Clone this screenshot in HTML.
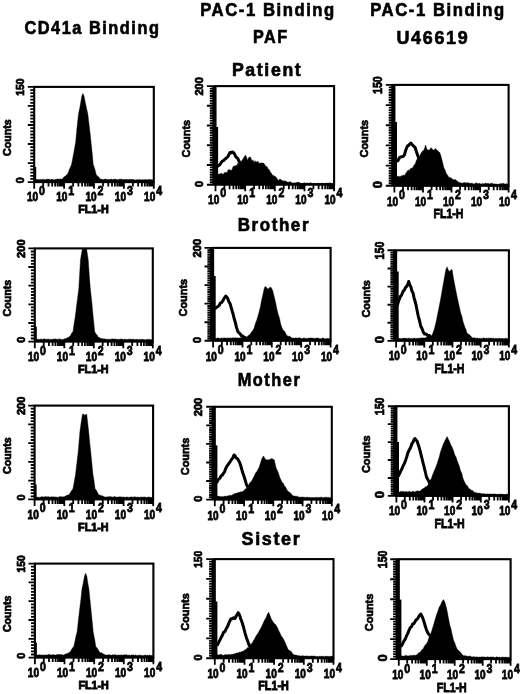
<!DOCTYPE html>
<html><head><meta charset="utf-8"><title>Figure</title>
<style>
html,body{margin:0;padding:0;background:#fff;}
svg{display:block;font-family:"Liberation Sans",sans-serif;}
.fh{fill:#000;stroke:#000;stroke-width:.4;stroke-linejoin:round}
.oh{fill:none;stroke:#000;stroke-width:3;stroke-linejoin:round;stroke-linecap:round}
.fr{fill:none;stroke:#000;stroke-width:2.1}
.bl{fill:none;stroke:#000;stroke-width:1.3}
.tk{fill:none;stroke:#000;stroke-width:1.8}
.tk2{fill:none;stroke:#000;stroke-width:1.9}
text{font-weight:bold;fill:#000;stroke:#000}
.hd{font-size:18.2px;letter-spacing:1.7px;stroke-width:.65}
.xl{stroke-width:.8}
.fl{stroke-width:.85}
.yl{stroke-width:.75}
.yc{stroke-width:.7}
</style></head><body>
<svg width="520" height="694" viewBox="0 0 520 694">
<rect width="520" height="694" fill="#fff"/>
<g filter="url(#b)">
<g>
<polygon class="fh" points="36,182.1 36,179.5 37,179.5 38,179.5 39,179.8 40,179.4 41,179.5 42,179.5 43,179.2 44,179.4 45,179.5 46,179.7 47,179.1 48,179.2 49,179.1 50,179.7 51,179.5 52,179 53,179.8 54,179.8 55,179.5 56,179.4 57,179 58,178.9 59,179.3 60,178.9 61,179 62,179.3 63.1,178 64.1,176.8 65.2,176.3 66.2,175.2 67.3,174.3 68.4,172.3 69.4,169.3 70.5,167 71.6,164.3 72.6,158.9 73.6,153.7 74.6,148 75.6,142.6 77,127.8 78.5,113.8 79.6,108.7 80.7,102.7 81.8,96 82.9,93.4 84,96 85.3,102.5 86.5,108.2 87.8,113.8 88.9,123.1 90,132.6 91.1,142.6 92.2,153.1 93.2,164.3 94.7,168.6 96.1,174.3 97.3,175.9 98.5,176.7 99.8,178.4 101,179.3 102,179.2 103,179.7 104,179.6 105,178.9 106,179.1 107,179.7 108,179.3 109,179.8 110,179.3 111,179 112,179.5 113,179.6 114,179.2 115,179.1 116,179.3 117,179.8 118,179.7 119,179.2 120,179.3 121,179.2 122,179.1 123,179.8 124,179.3 125,179.6 126,179.5 127,179.3 128,179.7 129,179.3 130,179.7 131,179.3 132,179.5 133,179.4 134,179.4 135,180 136,179.9 137,179.5 138,180 139,179.4 140,179.6 141,180 142,179.8 143,179.4 144,180.1 145,179.5 146,179.5 147,180 148,179.6 149,179.6 150,179.4 151,179.5 152,179.9 153,179.8 153,182.1"/>
<rect x="34.2" y="167.1" width="2.0" height="15"/>
<rect class="fr" x="34.2" y="86.9" width="119.6" height="95.2"/>
<path class="bl" d="M34.2 181.4H153.8"/>
<path class="tk" d="M34.2 182.1h-6.4M34.2 178.9h-3.9M34.2 175.8h-3.9M34.2 172.6h-3.9M34.2 169.4h-3.9M34.2 166.2h-3.9M34.2 163.1h-6.4M34.2 159.9h-3.9M34.2 156.7h-3.9M34.2 153.5h-3.9M34.2 150.4h-3.9M34.2 147.2h-3.9M34.2 144h-6.4M34.2 140.8h-3.9M34.2 137.7h-3.9M34.2 134.5h-3.9M34.2 131.3h-3.9M34.2 128.2h-3.9M34.2 125h-6.4M34.2 121.8h-3.9M34.2 118.6h-3.9M34.2 115.5h-3.9M34.2 112.3h-3.9M34.2 109.1h-3.9M34.2 105.9h-6.4M34.2 102.8h-3.9M34.2 99.6h-3.9M34.2 96.4h-3.9M34.2 93.2h-3.9M34.2 90.1h-3.9M34.2 86.9h-6.4"/>
<path class="tk" d="M34.2 182.1v6.6M43.2 182.1v4.5M48.5 182.1v4.5M52.2 182.1v4.5M55.1 182.1v4.5M57.5 182.1v4.5M59.5 182.1v4.5M61.2 182.1v4.5M62.8 182.1v4.5M64.1 182.1v6.6M73.1 182.1v4.5M78.4 182.1v4.5M82.1 182.1v4.5M85 182.1v4.5M87.4 182.1v4.5M89.4 182.1v4.5M91.1 182.1v4.5M92.7 182.1v4.5M94 182.1v6.6M103 182.1v4.5M108.3 182.1v4.5M112 182.1v4.5M114.9 182.1v4.5M117.3 182.1v4.5M119.3 182.1v4.5M121 182.1v4.5M122.5 182.1v4.5M123.9 182.1v6.6M132.9 182.1v4.5M138.2 182.1v4.5M141.9 182.1v4.5M144.8 182.1v4.5M147.2 182.1v4.5M149.2 182.1v4.5M150.9 182.1v4.5M152.4 182.1v4.5M153.8 182.1v6.6"/>
<text class="xl" style="font-size:12.1px" x="26.9" y="201" textLength="11.2" lengthAdjust="spacingAndGlyphs">10</text>
<text class="xl" style="font-size:12.6px" x="39" y="194.6" textLength="5.9" lengthAdjust="spacingAndGlyphs">0</text>
<text class="xl" style="font-size:12.1px" x="56.2" y="201" textLength="11.2" lengthAdjust="spacingAndGlyphs">10</text>
<text class="xl" style="font-size:12.6px" x="68.3" y="194.6" textLength="5.9" lengthAdjust="spacingAndGlyphs">1</text>
<text class="xl" style="font-size:12.1px" x="85.5" y="201" textLength="11.2" lengthAdjust="spacingAndGlyphs">10</text>
<text class="xl" style="font-size:12.6px" x="97.6" y="194.6" textLength="5.9" lengthAdjust="spacingAndGlyphs">2</text>
<text class="xl" style="font-size:12.1px" x="114.8" y="201" textLength="11.2" lengthAdjust="spacingAndGlyphs">10</text>
<text class="xl" style="font-size:12.6px" x="126.9" y="194.6" textLength="5.9" lengthAdjust="spacingAndGlyphs">3</text>
<text class="xl" style="font-size:12.1px" x="144.1" y="201" textLength="11.2" lengthAdjust="spacingAndGlyphs">10</text>
<text class="xl" style="font-size:12.6px" x="156.2" y="194.6" textLength="5.9" lengthAdjust="spacingAndGlyphs">4</text>
<text class="fl" style="font-size:11.3px" x="78.2" y="212.8" textLength="30.5" lengthAdjust="spacingAndGlyphs">FL1-H</text>
<text class="yl" style="font-size:10.9px" transform="translate(24.4 180.2) rotate(-90)" text-anchor="middle">0</text>
<text class="yl" style="font-size:10.9px" transform="translate(24.4 87.1) rotate(-90)" x="-8.7" textLength="17.4" lengthAdjust="spacingAndGlyphs">150</text>
<text class="yc" style="font-size:10.3px" transform="translate(10.6 137.7) rotate(-90)" x="-18.3" textLength="36.6" lengthAdjust="spacingAndGlyphs">Counts</text>
</g>
<g>
<polygon class="fh" points="217,184.7 217,176 218,174.2 219,174 220,174.1 221,173.2 222,173.3 223,174.7 224,173 225,172.4 226,172.2 227,172.7 228,170 229,169.4 230,170 231,170.5 232,169.4 233,166.7 234,165.7 235,166.6 236,165 237,165.7 238,162.5 239,164.2 240,162 241,162.2 242,160.3 243,159 244.3,156.7 245.6,155 247.5,160 248.9,157.2 250.4,157 252,161 253,159.7 254,162.8 255,160.6 256,162.2 257,161.7 258,161.2 259,163.4 260,163 261,163 262.3,162.9 263.5,163 264.8,164.6 265.9,166.8 266.9,166.2 268,169 269.2,169.6 270.3,172.1 271.5,173.3 272.5,175.3 273.5,175.5 274.5,176 275.9,176.9 277.3,179 278.5,180.4 279.6,179.2 280.8,179.3 282,180.8 283,180.6 284,181.2 285,180.7 286,181.2 287,182 288,181.9 289,182.3 290,181.6 291,182.1 292,183 293,183.2 294,182.8 295,182.9 296,182.8 297,182.2 298,182.2 299,182.2 300,183 301,183.6 302,183.3 303,183.7 304,182.4 305,183.2 306,183 307,183.4 308,182.8 309,183.8 310,182.5 311,183.1 312,183.4 313,183.6 314,183.4 315,183.4 316,183.5 317,183.7 318,182.9 319,183.4 320,183.7 321,183.6 322,183 323,183.5 324,183.6 325,183.3 326,183.3 327,183 328,183.3 329,183.3 330,182.6 331,183.4 332,183.9 333,183.2 333,184.7"/>
<polyline class="oh" points="217,165.6 218,165.9 219,165.3 220,164.5 221.2,162.5 222.5,161 223.9,160.3 225.4,158.8 226.7,157.8 228,156.5 229,154.4 230,152.5 231,152.9 232,152 233.2,152.3 234.5,154 235.5,156.2 236.5,157.5 237.7,158.3 238.8,160.8 239.9,162.3 241,163.5"/>
<rect x="215.5" y="127" width="2.6" height="57.7"/>
<rect class="fr" x="215.5" y="86.1" width="118.6" height="98.6"/>
<path class="bl" d="M215.5 184H334.1"/>
<path class="tk2" d="M215.5 184.7h-8.6M215.5 182.2h-5.7M215.5 179.8h-5.7M215.5 177.3h-5.7M215.5 174.8h-5.7M215.5 172.4h-5.7M215.5 169.9h-5.7M215.5 167.4h-5.7M215.5 165h-8.6M215.5 162.5h-5.7M215.5 160h-5.7M215.5 157.6h-5.7M215.5 155.1h-5.7M215.5 152.7h-5.7M215.5 150.2h-5.7M215.5 147.7h-5.7M215.5 145.3h-8.6M215.5 142.8h-5.7M215.5 140.3h-5.7M215.5 137.9h-5.7M215.5 135.4h-5.7M215.5 132.9h-5.7M215.5 130.5h-5.7M215.5 128h-5.7M215.5 125.5h-8.6M215.5 123.1h-5.7M215.5 120.6h-5.7M215.5 118.1h-5.7M215.5 115.7h-5.7M215.5 113.2h-5.7M215.5 110.7h-5.7M215.5 108.3h-5.7M215.5 105.8h-8.6M215.5 103.4h-5.7M215.5 100.9h-5.7M215.5 98.4h-5.7M215.5 96h-5.7M215.5 93.5h-5.7M215.5 91h-5.7M215.5 88.6h-5.7M215.5 86.1h-8.6"/>
<rect x="212.3" y="86.1" width="3.2" height="98.6"/>
<path class="tk" d="M215.5 184.7v6.6M224.4 184.7v4.5M229.6 184.7v4.5M233.4 184.7v4.5M236.2 184.7v4.5M238.6 184.7v4.5M240.6 184.7v4.5M242.3 184.7v4.5M243.8 184.7v4.5M245.2 184.7v6.6M254.1 184.7v4.5M259.3 184.7v4.5M263 184.7v4.5M265.9 184.7v4.5M268.2 184.7v4.5M270.2 184.7v4.5M271.9 184.7v4.5M273.4 184.7v4.5M274.8 184.7v6.6M283.7 184.7v4.5M288.9 184.7v4.5M292.7 184.7v4.5M295.5 184.7v4.5M297.9 184.7v4.5M299.9 184.7v4.5M301.6 184.7v4.5M303.1 184.7v4.5M304.5 184.7v6.6M313.4 184.7v4.5M318.6 184.7v4.5M322.3 184.7v4.5M325.2 184.7v4.5M327.5 184.7v4.5M329.5 184.7v4.5M331.2 184.7v4.5M332.7 184.7v4.5M334.1 184.7v6.6"/>
<text class="xl" style="font-size:12.6px" x="208.1" y="203.7" textLength="11.2" lengthAdjust="spacingAndGlyphs">10</text>
<text class="xl" style="font-size:13.1px" x="220.2" y="197.1" textLength="5.9" lengthAdjust="spacingAndGlyphs">0</text>
<text class="xl" style="font-size:12.6px" x="237.2" y="203.7" textLength="11.2" lengthAdjust="spacingAndGlyphs">10</text>
<text class="xl" style="font-size:13.1px" x="249.3" y="197.1" textLength="5.9" lengthAdjust="spacingAndGlyphs">1</text>
<text class="xl" style="font-size:12.6px" x="266.2" y="203.7" textLength="11.2" lengthAdjust="spacingAndGlyphs">10</text>
<text class="xl" style="font-size:13.1px" x="278.4" y="197.1" textLength="5.9" lengthAdjust="spacingAndGlyphs">2</text>
<text class="xl" style="font-size:12.6px" x="295.3" y="203.7" textLength="11.2" lengthAdjust="spacingAndGlyphs">10</text>
<text class="xl" style="font-size:13.1px" x="307.4" y="197.1" textLength="5.9" lengthAdjust="spacingAndGlyphs">3</text>
<text class="xl" style="font-size:12.6px" x="324.4" y="203.7" textLength="11.2" lengthAdjust="spacingAndGlyphs">10</text>
<text class="xl" style="font-size:13.1px" x="336.5" y="197.1" textLength="5.9" lengthAdjust="spacingAndGlyphs">4</text>
<text class="yl" style="font-size:10.9px" transform="translate(203 183.9) rotate(-90)" text-anchor="middle">0</text>
<text class="yl" style="font-size:10.9px" transform="translate(203 86.3) rotate(-90)" x="-9.3" textLength="18.6" lengthAdjust="spacingAndGlyphs">200</text>
<text class="yc" style="font-size:11.7px" transform="translate(189.7 138.6) rotate(-90)" x="-18.8" textLength="37.5" lengthAdjust="spacingAndGlyphs">Counts</text>
</g>
<g>
<polygon class="fh" points="396,185.8 396,177 397,176.8 398,175.9 399,176.5 400.1,176.7 401.2,175.7 402.4,175.7 403.5,175 404.8,175.2 406,173 407.1,171.4 408.1,169.9 409.2,170.4 410.6,168.6 412,168 413,167.4 414,164.9 415,164.6 416.4,160.3 417.9,157.9 419.2,157.1 420.4,154.4 421.7,152 422.9,150.8 424,150 425.6,145 427,149.5 428.5,150 429.6,149.9 430.8,147.7 431.9,148.4 433,150 434.1,150.2 435.1,148.6 436.2,149.2 438,151 439,151.8 440,153 441.5,158 442.9,163.7 443.9,167.7 445,170 446.4,173.8 447.7,175.2 448.9,177.4 450,177.5 451.2,177.9 452.3,179.1 453.5,179.6 454.6,179.7 455.8,179.8 456.9,181 458,181.5 459,182.4 460,182.7 461,182.7 462,183.3 463,182.9 464,182.6 465,182.5 466,183 467,182.8 468,182.7 469,183.1 470,183.4 471,183.3 472,183.1 473,183.8 474,184.1 475,183.4 476,182.9 477,182.9 478,184.1 479,183 480,183.7 481,184 482,183.8 483.1,183.5 484.1,184.1 485.1,183.1 486.1,183.3 487.1,183.7 488.1,183.1 489.2,184.2 490.2,183.4 491.2,183.3 492.2,183.2 493.2,184 494.3,183.7 495.3,184 496.3,184 497.3,184.2 498.3,184.4 499.4,184.1 500.4,183.5 501.4,183.8 502.4,183.4 503.4,183.2 504.4,183.8 505.5,184.2 506.5,183.5 507.5,183.9 507.5,185.8"/>
<polyline class="oh" points="396,161.7 397,160.7 398,160.5 399.6,157.5 400.8,156.9 402,156.8 403.2,156.3 404.4,155 405.8,150 407.3,146.3 409,145 410.8,143 411.9,144.3 413,145.5 414,146.6 415,147.3 416.5,152 417.9,156 419,158.5"/>
<rect x="394.4" y="122" width="2.6" height="63.8"/>
<rect class="fr" x="394.4" y="84.9" width="114.2" height="100.9"/>
<path class="bl" d="M394.4 185.1H508.6"/>
<path class="tk2" d="M394.4 185.8h-8.6M394.4 183.3h-5.7M394.4 180.8h-5.7M394.4 178.2h-5.7M394.4 175.7h-5.7M394.4 173.2h-5.7M394.4 170.7h-5.7M394.4 168.1h-5.7M394.4 165.6h-8.6M394.4 163.1h-5.7M394.4 160.6h-5.7M394.4 158.1h-5.7M394.4 155.5h-5.7M394.4 153h-5.7M394.4 150.5h-5.7M394.4 148h-5.7M394.4 145.4h-8.6M394.4 142.9h-5.7M394.4 140.4h-5.7M394.4 137.9h-5.7M394.4 135.4h-5.7M394.4 132.8h-5.7M394.4 130.3h-5.7M394.4 127.8h-5.7M394.4 125.3h-8.6M394.4 122.7h-5.7M394.4 120.2h-5.7M394.4 117.7h-5.7M394.4 115.2h-5.7M394.4 112.6h-5.7M394.4 110.1h-5.7M394.4 107.6h-5.7M394.4 105.1h-8.6M394.4 102.6h-5.7M394.4 100h-5.7M394.4 97.5h-5.7M394.4 95h-5.7M394.4 92.5h-5.7M394.4 89.9h-5.7M394.4 87.4h-5.7M394.4 84.9h-8.6"/>
<rect x="391.2" y="84.9" width="3.2" height="100.9"/>
<path class="tk" d="M394.4 185.8v6.6M403 185.8v4.5M408 185.8v4.5M411.6 185.8v4.5M414.4 185.8v4.5M416.6 185.8v4.5M418.5 185.8v4.5M420.2 185.8v4.5M421.7 185.8v4.5M423 185.8v6.6M431.6 185.8v4.5M436.6 185.8v4.5M440.2 185.8v4.5M442.9 185.8v4.5M445.2 185.8v4.5M447.1 185.8v4.5M448.8 185.8v4.5M450.2 185.8v4.5M451.5 185.8v6.6M460.1 185.8v4.5M465.2 185.8v4.5M468.7 185.8v4.5M471.5 185.8v4.5M473.8 185.8v4.5M475.7 185.8v4.5M477.3 185.8v4.5M478.8 185.8v4.5M480.1 185.8v6.6M488.7 185.8v4.5M493.7 185.8v4.5M497.3 185.8v4.5M500.1 185.8v4.5M502.3 185.8v4.5M504.2 185.8v4.5M505.9 185.8v4.5M507.3 185.8v4.5M508.6 185.8v6.6"/>
<text class="xl" style="font-size:12.9px" x="387" y="205.6" textLength="11.2" lengthAdjust="spacingAndGlyphs">10</text>
<text class="xl" style="font-size:13.4px" x="399.1" y="199.2" textLength="5.9" lengthAdjust="spacingAndGlyphs">0</text>
<text class="xl" style="font-size:12.9px" x="415" y="205.6" textLength="11.2" lengthAdjust="spacingAndGlyphs">10</text>
<text class="xl" style="font-size:13.4px" x="427.1" y="199.2" textLength="5.9" lengthAdjust="spacingAndGlyphs">1</text>
<text class="xl" style="font-size:12.9px" x="443" y="205.6" textLength="11.2" lengthAdjust="spacingAndGlyphs">10</text>
<text class="xl" style="font-size:13.4px" x="455.1" y="199.2" textLength="5.9" lengthAdjust="spacingAndGlyphs">2</text>
<text class="xl" style="font-size:12.9px" x="471" y="205.6" textLength="11.2" lengthAdjust="spacingAndGlyphs">10</text>
<text class="xl" style="font-size:13.4px" x="483.1" y="199.2" textLength="5.9" lengthAdjust="spacingAndGlyphs">3</text>
<text class="xl" style="font-size:12.9px" x="498.9" y="205.6" textLength="11.2" lengthAdjust="spacingAndGlyphs">10</text>
<text class="xl" style="font-size:13.4px" x="511.1" y="199.2" textLength="5.9" lengthAdjust="spacingAndGlyphs">4</text>
<text class="fl" style="font-size:13.7px" x="433.5" y="218.3" textLength="30" lengthAdjust="spacingAndGlyphs">FL1-H</text>
<text class="yl" style="font-size:12.9px" transform="translate(382.4 184.6) rotate(-90)" text-anchor="middle">0</text>
<text class="yl" style="font-size:12.9px" transform="translate(382.4 85.1) rotate(-90)" x="-8.9" textLength="17.8" lengthAdjust="spacingAndGlyphs">150</text>
<text class="yc" style="font-size:10.9px" transform="translate(368.4 138.6) rotate(-90)" x="-18.8" textLength="37.5" lengthAdjust="spacingAndGlyphs">Counts</text>
</g>
<g>
<polygon class="fh" points="36,341.6 36,339.2 37,339.4 38,339.1 39,339.4 40,339.5 41,338.8 42,339.5 43,339.3 44,338.8 45,339.1 46,339.2 47,339.5 48,339 49,339.2 50,339.4 51,339.3 52,339.4 53,339 54,339.2 55,338.8 56,339.2 57,339.3 58,339.2 59,339.2 60,338.8 61,339.4 62,339.4 63,339.4 64,339 65.2,338.6 66.3,338.4 67.5,337.5 68.7,337.2 69.8,336.3 70.8,334.9 71.9,332.7 73,331.5 74.1,323.6 75.2,317 76.4,307.3 77.6,297.9 78.8,288.2 80.5,259.4 82.3,249 83.4,249.4 84.4,249 85.5,248.2 86.6,249 88.2,259.4 89.2,274.3 90.3,288.2 91.8,301.9 93.2,317 94.7,331.5 95.9,333.9 97.1,334.9 98.3,337.2 99.5,337.5 100.7,338.4 101.8,338.2 103,339 104,338.7 105,339 106,339.2 107,339.3 108,339.2 109,339.4 110,339.1 111,339.4 112,338.8 113,338.9 114,339.1 115,339 116,339.3 117,339.3 118,339.2 119,339.4 120,339.2 121,339 122,339.1 123,339.5 124,339.5 125,339 126,339.5 127,339.6 128,339.3 129,339.3 130,339 131,339.3 132,339.3 133,339.4 134,338.9 135,339.7 136,339.3 137,339.3 138,339.6 139,339.4 140,339.4 141,339.5 142,339.1 143,339.4 144,339.4 145,339.8 146,339.8 147,339.3 148,339.4 149,339.2 150,339.4 151,339.7 152,339.5 152,341.6"/>
<rect x="34.8" y="326.6" width="2.0" height="15"/>
<rect class="fr" x="34.8" y="248.4" width="118" height="93.2"/>
<path class="bl" d="M34.8 340.9H152.8"/>
<path class="tk" d="M34.8 341.6h-6.4M34.8 338.5h-3.9M34.8 335.4h-3.9M34.8 332.3h-3.9M34.8 329.2h-3.9M34.8 326.1h-3.9M34.8 323h-6.4M34.8 319.9h-3.9M34.8 316.7h-3.9M34.8 313.6h-3.9M34.8 310.5h-3.9M34.8 307.4h-3.9M34.8 304.3h-6.4M34.8 301.2h-3.9M34.8 298.1h-3.9M34.8 295h-3.9M34.8 291.9h-3.9M34.8 288.8h-3.9M34.8 285.7h-6.4M34.8 282.6h-3.9M34.8 279.5h-3.9M34.8 276.4h-3.9M34.8 273.3h-3.9M34.8 270.1h-3.9M34.8 267h-6.4M34.8 263.9h-3.9M34.8 260.8h-3.9M34.8 257.7h-3.9M34.8 254.6h-3.9M34.8 251.5h-3.9M34.8 248.4h-6.4"/>
<path class="tk" d="M34.8 341.6v6.6M43.7 341.6v4.5M48.9 341.6v4.5M52.6 341.6v4.5M55.4 341.6v4.5M57.8 341.6v4.5M59.7 341.6v4.5M61.4 341.6v4.5M63 341.6v4.5M64.3 341.6v6.6M73.2 341.6v4.5M78.4 341.6v4.5M82.1 341.6v4.5M84.9 341.6v4.5M87.3 341.6v4.5M89.2 341.6v4.5M90.9 341.6v4.5M92.5 341.6v4.5M93.8 341.6v6.6M102.7 341.6v4.5M107.9 341.6v4.5M111.6 341.6v4.5M114.4 341.6v4.5M116.8 341.6v4.5M118.7 341.6v4.5M120.4 341.6v4.5M122 341.6v4.5M123.3 341.6v6.6M132.2 341.6v4.5M137.4 341.6v4.5M141.1 341.6v4.5M143.9 341.6v4.5M146.3 341.6v4.5M148.2 341.6v4.5M149.9 341.6v4.5M151.5 341.6v4.5M152.8 341.6v6.6"/>
<text class="xl" style="font-size:12.1px" x="27.9" y="361.1" textLength="11.2" lengthAdjust="spacingAndGlyphs">10</text>
<text class="xl" style="font-size:12.6px" x="40" y="354.7" textLength="5.9" lengthAdjust="spacingAndGlyphs">0</text>
<text class="xl" style="font-size:12.1px" x="56.8" y="361.1" textLength="11.2" lengthAdjust="spacingAndGlyphs">10</text>
<text class="xl" style="font-size:12.6px" x="68.9" y="354.7" textLength="5.9" lengthAdjust="spacingAndGlyphs">1</text>
<text class="xl" style="font-size:12.1px" x="85.8" y="361.1" textLength="11.2" lengthAdjust="spacingAndGlyphs">10</text>
<text class="xl" style="font-size:12.6px" x="97.8" y="354.7" textLength="5.9" lengthAdjust="spacingAndGlyphs">2</text>
<text class="xl" style="font-size:12.1px" x="114.7" y="361.1" textLength="11.2" lengthAdjust="spacingAndGlyphs">10</text>
<text class="xl" style="font-size:12.6px" x="126.8" y="354.7" textLength="5.9" lengthAdjust="spacingAndGlyphs">3</text>
<text class="xl" style="font-size:12.1px" x="143.6" y="361.1" textLength="11.2" lengthAdjust="spacingAndGlyphs">10</text>
<text class="xl" style="font-size:12.6px" x="155.7" y="354.7" textLength="5.9" lengthAdjust="spacingAndGlyphs">4</text>
<text class="fl" style="font-size:11.3px" x="78" y="372.9" textLength="30.5" lengthAdjust="spacingAndGlyphs">FL1-H</text>
<text class="yl" style="font-size:10.9px" transform="translate(24.9 339.7) rotate(-90)" text-anchor="middle">0</text>
<text class="yl" style="font-size:10.9px" transform="translate(24.9 248.6) rotate(-90)" x="-9.3" textLength="18.6" lengthAdjust="spacingAndGlyphs">200</text>
<text class="yc" style="font-size:10.3px" transform="translate(11.1 298.2) rotate(-90)" x="-18.3" textLength="36.6" lengthAdjust="spacingAndGlyphs">Counts</text>
</g>
<g>
<polygon class="fh" points="214.5,340.8 214.5,338.2 215.5,338.5 216.5,338.2 217.6,338 218.6,337.9 219.6,338.3 220.6,338.5 221.6,337.8 222.7,338.4 223.7,337.7 224.7,337.9 225.7,337.9 226.7,338.3 227.8,337.9 228.8,338 229.8,338.2 230.8,337.7 231.8,338.3 232.9,337.7 233.9,338.1 234.9,337.8 235.9,337.8 236.9,338 238,338 239,337.9 240,338 241.1,337.8 242.2,337.7 243.2,337.2 244.3,337.1 245.4,337.3 246.5,337 247.5,336.3 248.5,335.3 249.5,334.8 250.5,333.5 251.7,331.7 253,330.2 254.2,327.7 255.4,323.4 256.6,320.4 257.8,316.6 259,312.3 260.3,307.2 261.5,300.5 262.8,295 264.3,288 265.3,286.3 266.5,287.5 268,289.2 269.5,287.5 271,287.3 272.5,290 274.3,297 275.6,302.4 276.9,309.1 278.2,314.2 279.5,318.2 280.7,324 282,327.7 283.2,330.2 284.4,331 285.6,333.1 286.8,335.4 288,336.2 289.1,336.2 290.3,336.6 291.4,337.8 292.6,338 293.6,337.9 294.7,338.3 295.7,337.7 296.7,338 297.7,338.2 298.8,337.7 299.8,337.8 300.8,338.3 301.8,338.5 302.9,338.5 303.9,337.8 304.9,338.2 305.9,338.4 306.9,338.2 308,338.4 309,338 310,337.9 311.1,337.9 312.1,337.9 313.1,338.3 314.1,338.3 315.2,338.4 316.2,338 317.2,338.1 318.2,338.1 319.2,338.6 320.3,338.8 321.3,338.7 322.3,338.1 323.4,338.1 324.4,338.8 325.4,338.4 326.4,338.7 327.4,338.3 328.5,338.5 329.5,338.5 329.5,340.8"/>
<polyline class="oh" points="215,308.5 216,307.9 217,307 218,306.5 219.2,305.4 220.3,303.1 221.5,302.7 222.8,300.9 224,298.5 225.7,296 227.5,298 228.8,301.4 230.1,303.7 232,310.5 233,313.7 234,318 235.3,322.4 236.5,327.4 237.8,331.5 239.1,332.9 240.4,334.2 241.7,336.3 242.8,336.1 243.9,337.1 245,337.5"/>
<rect x="213.1" y="276" width="2.6" height="64.8"/>
<rect class="fr" x="213.1" y="247.9" width="117.5" height="92.9"/>
<path class="bl" d="M213.1 340.1H330.6"/>
<path class="tk2" d="M213.1 340.8h-8.6M213.1 338.5h-5.7M213.1 336.2h-5.7M213.1 333.8h-5.7M213.1 331.5h-5.7M213.1 329.2h-5.7M213.1 326.9h-5.7M213.1 324.5h-5.7M213.1 322.2h-8.6M213.1 319.9h-5.7M213.1 317.6h-5.7M213.1 315.3h-5.7M213.1 312.9h-5.7M213.1 310.6h-5.7M213.1 308.3h-5.7M213.1 306h-5.7M213.1 303.6h-8.6M213.1 301.3h-5.7M213.1 299h-5.7M213.1 296.7h-5.7M213.1 294.4h-5.7M213.1 292h-5.7M213.1 289.7h-5.7M213.1 287.4h-5.7M213.1 285.1h-8.6M213.1 282.7h-5.7M213.1 280.4h-5.7M213.1 278.1h-5.7M213.1 275.8h-5.7M213.1 273.4h-5.7M213.1 271.1h-5.7M213.1 268.8h-5.7M213.1 266.5h-8.6M213.1 264.2h-5.7M213.1 261.8h-5.7M213.1 259.5h-5.7M213.1 257.2h-5.7M213.1 254.9h-5.7M213.1 252.5h-5.7M213.1 250.2h-5.7M213.1 247.9h-8.6"/>
<rect x="209.9" y="247.9" width="3.2" height="92.9"/>
<path class="tk" d="M213.1 340.8v6.6M221.9 340.8v4.5M227.1 340.8v4.5M230.8 340.8v4.5M233.6 340.8v4.5M235.9 340.8v4.5M237.9 340.8v4.5M239.6 340.8v4.5M241.1 340.8v4.5M242.5 340.8v6.6M251.3 340.8v4.5M256.5 340.8v4.5M260.1 340.8v4.5M263 340.8v4.5M265.3 340.8v4.5M267.3 340.8v4.5M269 340.8v4.5M270.5 340.8v4.5M271.8 340.8v6.6M280.7 340.8v4.5M285.8 340.8v4.5M289.5 340.8v4.5M292.3 340.8v4.5M294.7 340.8v4.5M296.6 340.8v4.5M298.3 340.8v4.5M299.8 340.8v4.5M301.2 340.8v6.6M310 340.8v4.5M315.2 340.8v4.5M318.9 340.8v4.5M321.7 340.8v4.5M324 340.8v4.5M326 340.8v4.5M327.7 340.8v4.5M329.2 340.8v4.5M330.6 340.8v6.6"/>
<text class="xl" style="font-size:12.6px" x="205.7" y="360.6" textLength="11.2" lengthAdjust="spacingAndGlyphs">10</text>
<text class="xl" style="font-size:13.1px" x="217.8" y="354" textLength="5.9" lengthAdjust="spacingAndGlyphs">0</text>
<text class="xl" style="font-size:12.6px" x="234.5" y="360.6" textLength="11.2" lengthAdjust="spacingAndGlyphs">10</text>
<text class="xl" style="font-size:13.1px" x="246.6" y="354" textLength="5.9" lengthAdjust="spacingAndGlyphs">1</text>
<text class="xl" style="font-size:12.6px" x="263.3" y="360.6" textLength="11.2" lengthAdjust="spacingAndGlyphs">10</text>
<text class="xl" style="font-size:13.1px" x="275.4" y="354" textLength="5.9" lengthAdjust="spacingAndGlyphs">2</text>
<text class="xl" style="font-size:12.6px" x="292.1" y="360.6" textLength="11.2" lengthAdjust="spacingAndGlyphs">10</text>
<text class="xl" style="font-size:13.1px" x="304.2" y="354" textLength="5.9" lengthAdjust="spacingAndGlyphs">3</text>
<text class="xl" style="font-size:12.6px" x="320.9" y="360.6" textLength="11.2" lengthAdjust="spacingAndGlyphs">10</text>
<text class="xl" style="font-size:13.1px" x="333" y="354" textLength="5.9" lengthAdjust="spacingAndGlyphs">4</text>
<text class="yl" style="font-size:10.9px" transform="translate(200.6 340) rotate(-90)" text-anchor="middle">0</text>
<text class="yl" style="font-size:10.9px" transform="translate(200.6 248.1) rotate(-90)" x="-9.3" textLength="18.6" lengthAdjust="spacingAndGlyphs">200</text>
<text class="yc" style="font-size:11.7px" transform="translate(187.3 297.6) rotate(-90)" x="-18.8" textLength="37.5" lengthAdjust="spacingAndGlyphs">Counts</text>
</g>
<g>
<polygon class="fh" points="397,340.9 397,338.3 398,337.9 399,338.6 400,338.5 401,338.4 402,338.5 403,338.3 404,338.1 405,338.3 406,338.2 407,338.6 408,338.4 409,338 410,338.5 411,338.4 412,338.4 413,338.4 414,338 415,338.4 416,338.4 417,338.3 418,338.3 419,338.3 420,338 421,338.2 422,337.7 423,337.9 424,338 425,338 426.1,337.2 427.1,337.2 428.1,337.1 429.2,336.8 430.2,336 431.3,336 432.6,333.7 434,330 435.1,326 436.2,321.5 437.5,314.8 438.7,309 440,302.3 441.3,295.3 442.5,288.2 443.8,281 444.8,275.3 445.8,270 447,266.7 448.5,270.5 449.6,271.5 451,269.6 452.2,270 453.3,277.3 454.4,283 455.7,289.7 457,296.2 458.3,302.3 459.5,307.5 460.6,312.7 461.8,315.9 463,321.5 464,324.6 465,327.6 466,329.7 467,333 468.1,333.9 469.3,334.4 470.4,335.7 471.6,336.9 472.7,338 473.7,337.7 474.7,337.8 475.7,338.4 476.7,338.1 477.7,338.1 478.7,338.5 479.7,338.2 480.7,338.6 481.7,338.3 482.7,338.4 483.7,337.8 484.7,338.3 485.7,338.4 486.7,337.9 487.7,338.6 488.7,338 489.7,338.3 490.8,338 491.8,338.3 492.8,338.4 493.8,338 494.8,338.7 495.8,338.3 496.8,338.4 497.8,338.5 498.8,338.3 499.8,338.3 500.8,338.6 501.8,338.5 502.8,338.3 503.8,338.7 504.8,338.4 505.8,338.2 506.8,338.4 507.8,338.6 507.8,340.9"/>
<polyline class="oh" points="397.5,305 398.5,301.2 399.5,299 400.5,296.3 401.5,295.2 402.5,292.7 403.5,290.8 404.5,289.9 405.5,287.5 406.6,286.4 407.8,284.5 408.7,281.5 409.8,285 410.9,286.8 411.9,291 413,292.7 414,297.6 415,301 416,304.8 417,310 418.3,316.1 419.5,320.7 420.8,326.3 422.1,328.8 423.3,332.2 424.6,334 425.8,333.9 427,334.8 428.2,335.9 429.4,335.5"/>
<rect x="396.1" y="271.5" width="2.6" height="69.4"/>
<rect class="fr" x="396.1" y="250.3" width="112.8" height="90.5"/>
<path class="bl" d="M396.1 340.2H508.9"/>
<path class="tk2" d="M396.1 340.9h-8.6M396.1 338.6h-5.7M396.1 336.4h-5.7M396.1 334.1h-5.7M396.1 331.8h-5.7M396.1 329.6h-5.7M396.1 327.3h-5.7M396.1 325.1h-5.7M396.1 322.8h-8.6M396.1 320.5h-5.7M396.1 318.3h-5.7M396.1 316h-5.7M396.1 313.7h-5.7M396.1 311.5h-5.7M396.1 309.2h-5.7M396.1 306.9h-5.7M396.1 304.7h-8.6M396.1 302.4h-5.7M396.1 300.2h-5.7M396.1 297.9h-5.7M396.1 295.6h-5.7M396.1 293.4h-5.7M396.1 291.1h-5.7M396.1 288.8h-5.7M396.1 286.6h-8.6M396.1 284.3h-5.7M396.1 282h-5.7M396.1 279.8h-5.7M396.1 277.5h-5.7M396.1 275.3h-5.7M396.1 273h-5.7M396.1 270.7h-5.7M396.1 268.5h-8.6M396.1 266.2h-5.7M396.1 263.9h-5.7M396.1 261.7h-5.7M396.1 259.4h-5.7M396.1 257.1h-5.7M396.1 254.9h-5.7M396.1 252.6h-5.7M396.1 250.3h-8.6"/>
<rect x="392.9" y="250.3" width="3.2" height="90.5"/>
<path class="tk" d="M396.1 340.9v6.6M404.6 340.9v4.5M409.5 340.9v4.5M413.1 340.9v4.5M415.8 340.9v4.5M418 340.9v4.5M419.9 340.9v4.5M421.6 340.9v4.5M423 340.9v4.5M424.3 340.9v6.6M432.8 340.9v4.5M437.7 340.9v4.5M441.3 340.9v4.5M444 340.9v4.5M446.2 340.9v4.5M448.1 340.9v4.5M449.7 340.9v4.5M451.2 340.9v4.5M452.5 340.9v6.6M461 340.9v4.5M465.9 340.9v4.5M469.4 340.9v4.5M472.2 340.9v4.5M474.4 340.9v4.5M476.3 340.9v4.5M477.9 340.9v4.5M479.4 340.9v4.5M480.7 340.9v6.6M489.1 340.9v4.5M494.1 340.9v4.5M497.6 340.9v4.5M500.4 340.9v4.5M502.6 340.9v4.5M504.5 340.9v4.5M506.1 340.9v4.5M507.6 340.9v4.5M508.9 340.9v6.6"/>
<text class="xl" style="font-size:12.9px" x="388.7" y="360.4" textLength="11.2" lengthAdjust="spacingAndGlyphs">10</text>
<text class="xl" style="font-size:13.4px" x="400.8" y="354" textLength="5.9" lengthAdjust="spacingAndGlyphs">0</text>
<text class="xl" style="font-size:12.9px" x="416.3" y="360.4" textLength="11.2" lengthAdjust="spacingAndGlyphs">10</text>
<text class="xl" style="font-size:13.4px" x="428.4" y="354" textLength="5.9" lengthAdjust="spacingAndGlyphs">1</text>
<text class="xl" style="font-size:12.9px" x="443.9" y="360.4" textLength="11.2" lengthAdjust="spacingAndGlyphs">10</text>
<text class="xl" style="font-size:13.4px" x="456" y="354" textLength="5.9" lengthAdjust="spacingAndGlyphs">2</text>
<text class="xl" style="font-size:12.9px" x="471.5" y="360.4" textLength="11.2" lengthAdjust="spacingAndGlyphs">10</text>
<text class="xl" style="font-size:13.4px" x="483.6" y="354" textLength="5.9" lengthAdjust="spacingAndGlyphs">3</text>
<text class="xl" style="font-size:12.9px" x="499.2" y="360.4" textLength="11.2" lengthAdjust="spacingAndGlyphs">10</text>
<text class="xl" style="font-size:13.4px" x="511.3" y="354" textLength="5.9" lengthAdjust="spacingAndGlyphs">4</text>
<text class="fl" style="font-size:13.7px" x="434.5" y="373.1" textLength="30" lengthAdjust="spacingAndGlyphs">FL1-H</text>
<text class="yl" style="font-size:12.9px" transform="translate(384.1 339.7) rotate(-90)" text-anchor="middle">0</text>
<text class="yl" style="font-size:12.9px" transform="translate(384.1 250.5) rotate(-90)" x="-8.9" textLength="17.8" lengthAdjust="spacingAndGlyphs">150</text>
<text class="yc" style="font-size:10.9px" transform="translate(370.1 298.8) rotate(-90)" x="-18.8" textLength="37.5" lengthAdjust="spacingAndGlyphs">Counts</text>
</g>
<g>
<polygon class="fh" points="36,499.4 36,497 37,497.2 38,497 39,497.4 40,497.2 41,497 42,496.6 43,497 44,496.9 45,496.7 46,496.6 47,496.9 48,496.6 49,496.9 50,497 51,496.9 52,496.7 53,496.9 54,496.8 55,497.1 56,496.9 57,497.3 58,497.2 59,497 60,496.6 61,496.5 62,497.1 63,496.8 64.1,496.7 65.3,496.2 66.4,495.6 67.6,495.1 68.7,495 69.8,493.6 70.8,491.8 71.9,490.3 73,488.5 74.3,481.5 75.6,474 76.8,463.6 78.1,452.4 80,430.8 81.2,422.2 82.4,414.5 83.5,414 84.6,415 85.6,414.8 86.7,414 88.6,430.8 89.7,442.2 90.8,452.4 91.8,462.5 92.9,474 94,480.5 95,488.5 96,489.8 97,491.6 98,493.5 99,495 100,495 101,495.8 102,495.7 103,496.1 104,496.8 105,497 106,496.9 107,496.9 108,496.7 109,496.8 110,496.6 111,496.7 112,497.1 113,497.2 114,496.6 115,496.6 116,497.2 117,497 118,497.2 119,496.7 120,496.9 121,496.8 122,497.2 123,496.9 124,497.1 125,497.4 126,496.9 127,497.1 128,497.2 129,497.4 130,497 131,497 132,496.8 133,497.4 134,496.8 135,496.8 136,497.2 137,497.1 138,497.3 139,497 140,497.4 141,496.9 142,497 143,497.3 144,496.9 145,497.1 146,497.4 147,497.4 148,497.1 149,497 150,497.2 151,497.5 152,497.3 152,499.4"/>
<rect x="34.6" y="484.4" width="2.0" height="15"/>
<rect class="fr" x="34.6" y="405.6" width="118.5" height="93.8"/>
<path class="bl" d="M34.6 498.7H153.2"/>
<path class="tk" d="M34.6 499.4h-6.4M34.6 496.3h-3.9M34.6 493.1h-3.9M34.6 490h-3.9M34.6 486.9h-3.9M34.6 483.8h-3.9M34.6 480.6h-6.4M34.6 477.5h-3.9M34.6 474.4h-3.9M34.6 471.3h-3.9M34.6 468.1h-3.9M34.6 465h-3.9M34.6 461.9h-6.4M34.6 458.8h-3.9M34.6 455.6h-3.9M34.6 452.5h-3.9M34.6 449.4h-3.9M34.6 446.2h-3.9M34.6 443.1h-6.4M34.6 440h-3.9M34.6 436.9h-3.9M34.6 433.7h-3.9M34.6 430.6h-3.9M34.6 427.5h-3.9M34.6 424.4h-6.4M34.6 421.2h-3.9M34.6 418.1h-3.9M34.6 415h-3.9M34.6 411.9h-3.9M34.6 408.7h-3.9M34.6 405.6h-6.4"/>
<path class="tk" d="M34.6 499.4v6.6M43.6 499.4v4.5M48.8 499.4v4.5M52.5 499.4v4.5M55.4 499.4v4.5M57.7 499.4v4.5M59.7 499.4v4.5M61.4 499.4v4.5M62.9 499.4v4.5M64.3 499.4v6.6M73.2 499.4v4.5M78.4 499.4v4.5M82.1 499.4v4.5M85 499.4v4.5M87.3 499.4v4.5M89.3 499.4v4.5M91.1 499.4v4.5M92.6 499.4v4.5M93.9 499.4v6.6M102.8 499.4v4.5M108.1 499.4v4.5M111.8 499.4v4.5M114.6 499.4v4.5M117 499.4v4.5M119 499.4v4.5M120.7 499.4v4.5M122.2 499.4v4.5M123.6 499.4v6.6M132.5 499.4v4.5M137.7 499.4v4.5M141.4 499.4v4.5M144.3 499.4v4.5M146.6 499.4v4.5M148.6 499.4v4.5M150.3 499.4v4.5M151.8 499.4v4.5M153.2 499.4v6.6"/>
<text class="xl" style="font-size:12.1px" x="27.6" y="518.8" textLength="11.2" lengthAdjust="spacingAndGlyphs">10</text>
<text class="xl" style="font-size:12.6px" x="39.8" y="512.4" textLength="5.9" lengthAdjust="spacingAndGlyphs">0</text>
<text class="xl" style="font-size:12.1px" x="56.7" y="518.8" textLength="11.2" lengthAdjust="spacingAndGlyphs">10</text>
<text class="xl" style="font-size:12.6px" x="68.8" y="512.4" textLength="5.9" lengthAdjust="spacingAndGlyphs">1</text>
<text class="xl" style="font-size:12.1px" x="85.8" y="518.8" textLength="11.2" lengthAdjust="spacingAndGlyphs">10</text>
<text class="xl" style="font-size:12.6px" x="97.9" y="512.4" textLength="5.9" lengthAdjust="spacingAndGlyphs">2</text>
<text class="xl" style="font-size:12.1px" x="114.8" y="518.8" textLength="11.2" lengthAdjust="spacingAndGlyphs">10</text>
<text class="xl" style="font-size:12.6px" x="126.9" y="512.4" textLength="5.9" lengthAdjust="spacingAndGlyphs">3</text>
<text class="xl" style="font-size:12.1px" x="143.9" y="518.8" textLength="11.2" lengthAdjust="spacingAndGlyphs">10</text>
<text class="xl" style="font-size:12.6px" x="156" y="512.4" textLength="5.9" lengthAdjust="spacingAndGlyphs">4</text>
<text class="fl" style="font-size:11.3px" x="78.1" y="530.6" textLength="30.5" lengthAdjust="spacingAndGlyphs">FL1-H</text>
<text class="yl" style="font-size:10.9px" transform="translate(24.8 497.5) rotate(-90)" text-anchor="middle">0</text>
<text class="yl" style="font-size:10.9px" transform="translate(24.8 405.8) rotate(-90)" x="-9.3" textLength="18.6" lengthAdjust="spacingAndGlyphs">200</text>
<text class="yc" style="font-size:10.3px" transform="translate(10.9 455.7) rotate(-90)" x="-18.3" textLength="36.6" lengthAdjust="spacingAndGlyphs">Counts</text>
</g>
<g>
<polygon class="fh" points="216.5,499.6 216.5,496.5 217.5,496.3 218.6,496.1 219.6,496.6 220.7,496.4 221.7,496.7 222.8,496.6 223.8,496.6 224.9,496.1 225.9,496.4 227,495.9 228,496 229,495.5 230,495.3 231,495.5 232,495.2 233,494.4 234.1,493.8 235.1,493.6 236.2,493.3 237.3,492.9 238.3,492.6 239.4,492.3 240.5,491.7 241.5,491.9 242.6,491.5 243.8,490.8 245,489.2 246.2,488.4 247.4,486.7 248.6,485.1 249.7,482.7 250.9,481.9 252,480.3 253.2,478 254.4,475.6 255.5,473 256.7,471.7 257.8,469.7 259,467.5 260.4,463.3 261.8,458.8 263.4,456 265,458.5 266.3,459.9 267.6,459.8 268.7,459.7 269.9,459.6 271,458.8 272.1,458.4 273.2,459.5 274.3,459.8 275.3,464.6 276.3,468.5 277.5,470.7 278.6,473.6 279.8,477.5 281,480 282.2,482.6 283.3,483.2 284.5,486 285.6,487.1 286.8,489.6 288,491.2 289.1,492.1 290.3,492.7 291.4,493.9 292.6,495.4 293.7,495.9 294.7,495.9 295.8,496.3 296.8,496.2 297.9,496.4 298.9,497.2 300,497 301,497.2 302.1,497 303.1,497.1 304.1,497.2 305.1,497.3 306.2,497.4 307.2,497 308.2,497.4 309.2,497.3 310.3,497.5 311.3,497.4 312.3,497.5 313.3,497.5 314.4,497.6 315.4,497.4 316.4,497.3 317.5,497.4 318.5,497.5 319.5,497.3 320.5,497.3 321.6,497.1 322.6,497.6 323.6,497.8 324.6,497.3 325.7,497.2 326.7,497.2 327.7,497.4 328.7,497.3 329.8,497.8 330.8,497.5 330.8,499.6"/>
<polyline class="oh" points="217,482 218,479.9 219,479 220,478 221.1,475.8 222.3,475.1 223.4,473.3 224.6,471.6 225.8,468.4 227,466 228.2,464.6 229.3,462.8 230.4,461.3 231.5,459.5 232.8,457.9 234,455 235,455.7 236,458 237.4,458.7 238.8,460.8 239.8,462.9 240.8,466 242.6,472.3 243.9,476 245.2,480.2 246.5,484.8 248.4,487.7"/>
<rect x="214.8" y="445.4" width="2.6" height="54.2"/>
<rect class="fr" x="214.8" y="406.8" width="117" height="92.8"/>
<path class="bl" d="M214.8 498.9H331.8"/>
<path class="tk2" d="M214.8 499.6h-8.6M214.8 497.3h-5.7M214.8 495h-5.7M214.8 492.6h-5.7M214.8 490.3h-5.7M214.8 488h-5.7M214.8 485.7h-5.7M214.8 483.4h-5.7M214.8 481h-8.6M214.8 478.7h-5.7M214.8 476.4h-5.7M214.8 474.1h-5.7M214.8 471.8h-5.7M214.8 469.4h-5.7M214.8 467.1h-5.7M214.8 464.8h-5.7M214.8 462.5h-8.6M214.8 460.2h-5.7M214.8 457.8h-5.7M214.8 455.5h-5.7M214.8 453.2h-5.7M214.8 450.9h-5.7M214.8 448.6h-5.7M214.8 446.2h-5.7M214.8 443.9h-8.6M214.8 441.6h-5.7M214.8 439.3h-5.7M214.8 437h-5.7M214.8 434.6h-5.7M214.8 432.3h-5.7M214.8 430h-5.7M214.8 427.7h-5.7M214.8 425.4h-8.6M214.8 423h-5.7M214.8 420.7h-5.7M214.8 418.4h-5.7M214.8 416.1h-5.7M214.8 413.8h-5.7M214.8 411.4h-5.7M214.8 409.1h-5.7M214.8 406.8h-8.6"/>
<rect x="211.6" y="406.8" width="3.2" height="92.8"/>
<path class="tk" d="M214.8 499.6v6.6M223.6 499.6v4.5M228.8 499.6v4.5M232.4 499.6v4.5M235.2 499.6v4.5M237.6 499.6v4.5M239.5 499.6v4.5M241.2 499.6v4.5M242.7 499.6v4.5M244.1 499.6v6.6M252.9 499.6v4.5M258 499.6v4.5M261.7 499.6v4.5M264.5 499.6v4.5M266.8 499.6v4.5M268.8 499.6v4.5M270.5 499.6v4.5M272 499.6v4.5M273.3 499.6v6.6M282.1 499.6v4.5M287.3 499.6v4.5M290.9 499.6v4.5M293.7 499.6v4.5M296.1 499.6v4.5M298 499.6v4.5M299.7 499.6v4.5M301.2 499.6v4.5M302.6 499.6v6.6M311.4 499.6v4.5M316.5 499.6v4.5M320.2 499.6v4.5M323 499.6v4.5M325.3 499.6v4.5M327.3 499.6v4.5M329 499.6v4.5M330.5 499.6v4.5M331.8 499.6v6.6"/>
<text class="xl" style="font-size:12.6px" x="207.4" y="519.6" textLength="11.2" lengthAdjust="spacingAndGlyphs">10</text>
<text class="xl" style="font-size:13.1px" x="219.5" y="513" textLength="5.9" lengthAdjust="spacingAndGlyphs">0</text>
<text class="xl" style="font-size:12.6px" x="236.1" y="519.6" textLength="11.2" lengthAdjust="spacingAndGlyphs">10</text>
<text class="xl" style="font-size:13.1px" x="248.2" y="513" textLength="5.9" lengthAdjust="spacingAndGlyphs">1</text>
<text class="xl" style="font-size:12.6px" x="264.8" y="519.6" textLength="11.2" lengthAdjust="spacingAndGlyphs">10</text>
<text class="xl" style="font-size:13.1px" x="276.9" y="513" textLength="5.9" lengthAdjust="spacingAndGlyphs">2</text>
<text class="xl" style="font-size:12.6px" x="293.4" y="519.6" textLength="11.2" lengthAdjust="spacingAndGlyphs">10</text>
<text class="xl" style="font-size:13.1px" x="305.5" y="513" textLength="5.9" lengthAdjust="spacingAndGlyphs">3</text>
<text class="xl" style="font-size:12.6px" x="322.1" y="519.6" textLength="11.2" lengthAdjust="spacingAndGlyphs">10</text>
<text class="xl" style="font-size:13.1px" x="334.2" y="513" textLength="5.9" lengthAdjust="spacingAndGlyphs">4</text>
<text class="yl" style="font-size:10.9px" transform="translate(202.3 498.8) rotate(-90)" text-anchor="middle">0</text>
<text class="yl" style="font-size:10.9px" transform="translate(202.3 407) rotate(-90)" x="-9.3" textLength="18.6" lengthAdjust="spacingAndGlyphs">200</text>
<text class="yc" style="font-size:11.7px" transform="translate(189 456.4) rotate(-90)" x="-18.8" textLength="37.5" lengthAdjust="spacingAndGlyphs">Counts</text>
</g>
<g>
<polygon class="fh" points="397.5,495.9 397.5,491.8 398.5,492 399.5,491.9 400.5,491.4 401.6,491.4 402.6,491.5 403.6,491.3 404.6,491.9 405.6,491.4 406.6,491.6 407.6,491.9 408.7,491.5 409.7,491.3 410.7,491.9 411.7,491.9 412.7,491.3 413.7,491.5 414.7,491.9 415.8,491.4 416.8,491 417.8,490.8 418.8,491.3 419.9,491.1 421,490.3 422.1,489.1 423.2,488.6 424.3,487.9 425.4,486.8 426.5,486.5 427.7,485.4 428.9,482.9 430.1,480.3 431.3,478.8 432.5,475 433.6,472.6 434.8,469.4 435.9,467 437.1,463.5 438.3,460 439.5,455.9 440.7,451.3 441.9,448 443.1,444.6 444.3,442 445.5,439.5 447.1,436.5 448.5,439.5 449.5,441.2 450.5,444.3 451.5,445.9 452.5,448 453.7,451.3 454.8,455 456,456.9 457.1,460.5 458.3,463.5 459.4,466.4 460.6,470.9 461.7,473.1 462.9,477.9 464,480.8 465.2,483.3 466.4,485.2 467.6,485.9 468.8,488.5 470,488.9 471.1,490.3 472.3,490.3 473.4,491.5 474.6,492.3 475.6,492.4 476.7,493.1 477.7,492.9 478.8,493.3 479.8,493 480.8,493.6 481.9,493.4 482.9,494 484,493.5 485,494 486,494.3 487.1,493.8 488.1,494.1 489.1,494.1 490.2,493.8 491.2,494.3 492.3,494 493.3,494 494.3,493.9 495.4,494 496.4,494.2 497.4,494.4 498.5,494.1 499.5,494.4 500.5,494 501.6,494.2 502.6,494.3 503.7,494.6 504.7,494.6 505.7,494.5 506.8,494 507.8,494.4 507.8,495.9"/>
<polyline class="oh" points="398.5,476 399.8,473 401,470.5 402.1,468.5 403.3,465.4 404.4,463.5 405.6,460.2 406.8,456.7 408,452.5 409.2,450 410.6,447.6 412,443.5 413,442.3 414,439.7 415,438.5 416,439.9 417,441 418.8,446.2 420.1,450.9 421.4,456.2 422.7,461.5 424,466.7 425.2,471.5 426.5,477 427.9,479.6 429.4,482.7"/>
<rect x="396.4" y="442" width="2.6" height="53.9"/>
<rect class="fr" x="396.4" y="406.2" width="112.5" height="89.7"/>
<path class="bl" d="M396.4 495.2H508.9"/>
<path class="tk2" d="M396.4 495.9h-8.6M396.4 493.7h-5.7M396.4 491.4h-5.7M396.4 489.2h-5.7M396.4 486.9h-5.7M396.4 484.7h-5.7M396.4 482.4h-5.7M396.4 480.2h-5.7M396.4 478h-8.6M396.4 475.7h-5.7M396.4 473.5h-5.7M396.4 471.2h-5.7M396.4 469h-5.7M396.4 466.7h-5.7M396.4 464.5h-5.7M396.4 462.3h-5.7M396.4 460h-8.6M396.4 457.8h-5.7M396.4 455.5h-5.7M396.4 453.3h-5.7M396.4 451h-5.7M396.4 448.8h-5.7M396.4 446.6h-5.7M396.4 444.3h-5.7M396.4 442.1h-8.6M396.4 439.8h-5.7M396.4 437.6h-5.7M396.4 435.4h-5.7M396.4 433.1h-5.7M396.4 430.9h-5.7M396.4 428.6h-5.7M396.4 426.4h-5.7M396.4 424.1h-8.6M396.4 421.9h-5.7M396.4 419.7h-5.7M396.4 417.4h-5.7M396.4 415.2h-5.7M396.4 412.9h-5.7M396.4 410.7h-5.7M396.4 408.4h-5.7M396.4 406.2h-8.6"/>
<rect x="393.2" y="406.2" width="3.2" height="89.7"/>
<path class="tk" d="M396.4 495.9v6.6M404.8 495.9v4.5M409.8 495.9v4.5M413.3 495.9v4.5M416 495.9v4.5M418.2 495.9v4.5M420.1 495.9v4.5M421.8 495.9v4.5M423.2 495.9v4.5M424.5 495.9v6.6M433 495.9v4.5M437.9 495.9v4.5M441.4 495.9v4.5M444.2 495.9v4.5M446.4 495.9v4.5M448.3 495.9v4.5M449.9 495.9v4.5M451.3 495.9v4.5M452.6 495.9v6.6M461.1 495.9v4.5M466 495.9v4.5M469.6 495.9v4.5M472.3 495.9v4.5M474.5 495.9v4.5M476.4 495.9v4.5M478 495.9v4.5M479.5 495.9v4.5M480.8 495.9v6.6M489.2 495.9v4.5M494.2 495.9v4.5M497.7 495.9v4.5M500.4 495.9v4.5M502.7 495.9v4.5M504.5 495.9v4.5M506.2 495.9v4.5M507.6 495.9v4.5M508.9 495.9v6.6"/>
<text class="xl" style="font-size:12.9px" x="389" y="515.4" textLength="11.2" lengthAdjust="spacingAndGlyphs">10</text>
<text class="xl" style="font-size:13.4px" x="401.1" y="509" textLength="5.9" lengthAdjust="spacingAndGlyphs">0</text>
<text class="xl" style="font-size:12.9px" x="416.5" y="515.4" textLength="11.2" lengthAdjust="spacingAndGlyphs">10</text>
<text class="xl" style="font-size:13.4px" x="428.6" y="509" textLength="5.9" lengthAdjust="spacingAndGlyphs">1</text>
<text class="xl" style="font-size:12.9px" x="444.1" y="515.4" textLength="11.2" lengthAdjust="spacingAndGlyphs">10</text>
<text class="xl" style="font-size:13.4px" x="456.2" y="509" textLength="5.9" lengthAdjust="spacingAndGlyphs">2</text>
<text class="xl" style="font-size:12.9px" x="471.6" y="515.4" textLength="11.2" lengthAdjust="spacingAndGlyphs">10</text>
<text class="xl" style="font-size:13.4px" x="483.7" y="509" textLength="5.9" lengthAdjust="spacingAndGlyphs">3</text>
<text class="xl" style="font-size:12.9px" x="499.2" y="515.4" textLength="11.2" lengthAdjust="spacingAndGlyphs">10</text>
<text class="xl" style="font-size:13.4px" x="511.3" y="509" textLength="5.9" lengthAdjust="spacingAndGlyphs">4</text>
<text class="fl" style="font-size:13.7px" x="434.6" y="528.1" textLength="30" lengthAdjust="spacingAndGlyphs">FL1-H</text>
<text class="yl" style="font-size:12.9px" transform="translate(384.4 494.7) rotate(-90)" text-anchor="middle">0</text>
<text class="yl" style="font-size:12.9px" transform="translate(384.4 406.4) rotate(-90)" x="-8.9" textLength="17.8" lengthAdjust="spacingAndGlyphs">150</text>
<text class="yc" style="font-size:10.9px" transform="translate(370.4 454.2) rotate(-90)" x="-18.8" textLength="37.5" lengthAdjust="spacingAndGlyphs">Counts</text>
</g>
<g>
<polygon class="fh" points="36,657.6 36,655 37,654.9 38,655.1 39,654.8 40,654.7 41,655.2 42,654.8 43,655.3 44,655 45,655.1 46,654.8 47,655.2 48,654.6 49,654.6 50,654.6 51,655 52,655.1 53,654.6 54,654.8 55,655.1 56,654.9 57,654.5 58,654.6 59,654.5 60,654.5 61,654.7 62,654.5 63,655.2 64,654.8 65.1,654.2 66.2,653.8 67.3,653.4 68.4,653 69.5,652.2 70.6,651.2 71.7,649.2 72.7,647.7 73.8,646.5 74.9,641.5 76,636.1 77.1,632 78.3,621 79.5,610.4 80.8,599.9 82,588.8 83.2,583.2 84.5,576 85.7,573.3 86.8,576 87.8,582.9 88.9,588.8 90,599.9 91.1,610.4 92.2,621.4 93.2,632 94.5,638.5 95.8,646.5 97.1,648.1 98.4,650.1 99.7,652.2 100.8,652.9 101.8,652.8 102.9,653.6 103.9,654.3 105,654.8 106,655.1 107,655.1 108,654.9 109,654.6 110.1,655.1 111.1,655.2 112.1,654.9 113.1,654.8 114.1,654.9 115.1,654.6 116.1,655.1 117.1,655.3 118.1,655 119.1,655.1 120.2,655.2 121.2,654.7 122.2,655.3 123.2,655.1 124.2,654.8 125.2,654.7 126.2,654.8 127.2,655.1 128.2,655.2 129.3,654.9 130.3,655.4 131.3,655 132.3,655.1 133.3,654.8 134.3,655.5 135.3,654.8 136.3,655.5 137.3,655.2 138.4,655.2 139.4,655.2 140.4,655 141.4,655.5 142.4,655.6 143.4,655.5 144.4,655.3 145.4,654.9 146.4,655.5 147.4,655.1 148.5,655.6 149.5,655.1 150.5,655.3 151.5,655.6 152.5,655.3 152.5,657.6"/>
<rect x="34.9" y="642.6" width="2.0" height="15"/>
<rect class="fr" x="34.9" y="563.6" width="118.5" height="94"/>
<path class="bl" d="M34.9 656.9H153.4"/>
<path class="tk" d="M34.9 657.6h-6.4M34.9 654.5h-3.9M34.9 651.3h-3.9M34.9 648.2h-3.9M34.9 645.1h-3.9M34.9 641.9h-3.9M34.9 638.8h-6.4M34.9 635.7h-3.9M34.9 632.5h-3.9M34.9 629.4h-3.9M34.9 626.3h-3.9M34.9 623.1h-3.9M34.9 620h-6.4M34.9 616.9h-3.9M34.9 613.7h-3.9M34.9 610.6h-3.9M34.9 607.5h-3.9M34.9 604.3h-3.9M34.9 601.2h-6.4M34.9 598.1h-3.9M34.9 594.9h-3.9M34.9 591.8h-3.9M34.9 588.7h-3.9M34.9 585.5h-3.9M34.9 582.4h-6.4M34.9 579.3h-3.9M34.9 576.1h-3.9M34.9 573h-3.9M34.9 569.9h-3.9M34.9 566.7h-3.9M34.9 563.6h-6.4"/>
<path class="tk" d="M34.9 657.6v6.6M43.8 657.6v4.5M49 657.6v4.5M52.7 657.6v4.5M55.6 657.6v4.5M58 657.6v4.5M59.9 657.6v4.5M61.7 657.6v4.5M63.2 657.6v4.5M64.5 657.6v6.6M73.5 657.6v4.5M78.7 657.6v4.5M82.4 657.6v4.5M85.3 657.6v4.5M87.6 657.6v4.5M89.6 657.6v4.5M91.3 657.6v4.5M92.8 657.6v4.5M94.2 657.6v6.6M103.1 657.6v4.5M108.3 657.6v4.5M112 657.6v4.5M114.9 657.6v4.5M117.2 657.6v4.5M119.2 657.6v4.5M120.9 657.6v4.5M122.5 657.6v4.5M123.8 657.6v6.6M132.7 657.6v4.5M138 657.6v4.5M141.7 657.6v4.5M144.5 657.6v4.5M146.9 657.6v4.5M148.9 657.6v4.5M150.6 657.6v4.5M152.1 657.6v4.5M153.4 657.6v6.6"/>
<text class="xl" style="font-size:12.1px" x="27.8" y="677.4" textLength="11.2" lengthAdjust="spacingAndGlyphs">10</text>
<text class="xl" style="font-size:12.6px" x="39.9" y="671" textLength="5.9" lengthAdjust="spacingAndGlyphs">0</text>
<text class="xl" style="font-size:12.1px" x="56.9" y="677.4" textLength="11.2" lengthAdjust="spacingAndGlyphs">10</text>
<text class="xl" style="font-size:12.6px" x="69" y="671" textLength="5.9" lengthAdjust="spacingAndGlyphs">1</text>
<text class="xl" style="font-size:12.1px" x="85.9" y="677.4" textLength="11.2" lengthAdjust="spacingAndGlyphs">10</text>
<text class="xl" style="font-size:12.6px" x="98" y="671" textLength="5.9" lengthAdjust="spacingAndGlyphs">2</text>
<text class="xl" style="font-size:12.1px" x="115" y="677.4" textLength="11.2" lengthAdjust="spacingAndGlyphs">10</text>
<text class="xl" style="font-size:12.6px" x="127.1" y="671" textLength="5.9" lengthAdjust="spacingAndGlyphs">3</text>
<text class="xl" style="font-size:12.1px" x="144.1" y="677.4" textLength="11.2" lengthAdjust="spacingAndGlyphs">10</text>
<text class="xl" style="font-size:12.6px" x="156.2" y="671" textLength="5.9" lengthAdjust="spacingAndGlyphs">4</text>
<text class="fl" style="font-size:11.3px" x="78.4" y="689.2" textLength="30.5" lengthAdjust="spacingAndGlyphs">FL1-H</text>
<text class="yl" style="font-size:10.9px" transform="translate(25 655.7) rotate(-90)" text-anchor="middle">0</text>
<text class="yl" style="font-size:10.9px" transform="translate(25 563.8) rotate(-90)" x="-8.7" textLength="17.4" lengthAdjust="spacingAndGlyphs">150</text>
<text class="yc" style="font-size:10.3px" transform="translate(11.2 613.8) rotate(-90)" x="-18.3" textLength="36.6" lengthAdjust="spacingAndGlyphs">Counts</text>
</g>
<g>
<polygon class="fh" points="216.5,658.2 216.5,655 217.5,654.7 218.6,655 219.6,654.5 220.6,654.4 221.7,654.5 222.7,655.2 223.7,655.2 224.8,654.8 225.8,654.5 226.8,654.8 227.8,654.8 228.9,654.4 229.9,654.6 230.9,654.8 232,654 233,654.4 234.1,653.8 235.1,653.7 236.2,653 237.3,653 238.3,652.9 239.4,652.1 240.5,652.2 241.5,651.5 242.6,651.5 243.8,650.8 244.9,649.7 246.1,649.4 247.2,647.7 248.4,647.7 249.6,646.3 250.8,643.8 252,643.4 253.2,641 254.4,639.2 255.5,637.1 256.7,635 257.8,633.4 259,631.3 260.2,629.2 261.4,626.9 262.6,624.5 263.8,621.7 264.9,619.4 265.9,618 267,615 268.6,612.1 270,615.5 271.2,618.7 272.4,620.8 273.7,623 275,623.9 276.3,625.6 277.6,628.1 278.8,630.8 280.1,633.3 281.4,636.2 282.7,637.8 284,640 285.3,642.9 286.5,645.7 287.8,648.7 289,650.5 290.1,650.7 291.3,651.5 292.4,653.5 293.6,654.4 294.7,655 295.8,655.1 297,655.3 298.1,655.7 299.2,655.6 300.3,656 301.3,656.1 302.3,655.7 303.4,655.8 304.4,656 305.4,656.1 306.4,656 307.5,655.8 308.5,656.3 309.5,656.2 310.5,656 311.5,656 312.6,656.1 313.6,656 314.6,655.9 315.6,656.5 316.6,656.6 317.7,656.4 318.7,656.6 319.7,656.2 320.7,656.5 321.8,656.1 322.8,656.5 323.8,656.4 324.8,656.7 325.8,656.1 326.9,656.6 327.9,656.2 328.9,656.5 329.9,656.8 331,656.1 332,656.3 333,656.5 333,658.2"/>
<polyline class="oh" points="217.5,644.8 218.8,642.1 220,640 221.2,637.3 222.4,635.2 223.7,632.2 225,631.4 226.3,628.5 227.5,626.6 228.7,623.5 229.8,621 231,618.8 232.3,618.8 233.6,617.8 234.9,618.5 236.8,615 238.2,612.7 239.5,615 240.7,618.8 242.1,622.4 243.6,627.5 245.1,633.4 246.5,638 247.9,641.6 249.3,645.8"/>
<rect x="214.8" y="601.5" width="2.6" height="56.7"/>
<rect class="fr" x="214.8" y="559.1" width="118.7" height="99.1"/>
<path class="bl" d="M214.8 657.5H333.5"/>
<path class="tk2" d="M214.8 658.2h-8.6M214.8 655.7h-5.7M214.8 653.2h-5.7M214.8 650.8h-5.7M214.8 648.3h-5.7M214.8 645.8h-5.7M214.8 643.3h-5.7M214.8 640.9h-5.7M214.8 638.4h-8.6M214.8 635.9h-5.7M214.8 633.4h-5.7M214.8 630.9h-5.7M214.8 628.5h-5.7M214.8 626h-5.7M214.8 623.5h-5.7M214.8 621h-5.7M214.8 618.6h-8.6M214.8 616.1h-5.7M214.8 613.6h-5.7M214.8 611.1h-5.7M214.8 608.7h-5.7M214.8 606.2h-5.7M214.8 603.7h-5.7M214.8 601.2h-5.7M214.8 598.7h-8.6M214.8 596.3h-5.7M214.8 593.8h-5.7M214.8 591.3h-5.7M214.8 588.8h-5.7M214.8 586.4h-5.7M214.8 583.9h-5.7M214.8 581.4h-5.7M214.8 578.9h-8.6M214.8 576.4h-5.7M214.8 574h-5.7M214.8 571.5h-5.7M214.8 569h-5.7M214.8 566.5h-5.7M214.8 564.1h-5.7M214.8 561.6h-5.7M214.8 559.1h-8.6"/>
<rect x="211.6" y="559.1" width="3.2" height="99.1"/>
<path class="tk" d="M214.8 658.2v6.6M223.7 658.2v4.5M229 658.2v4.5M232.7 658.2v4.5M235.5 658.2v4.5M237.9 658.2v4.5M239.9 658.2v4.5M241.6 658.2v4.5M243.1 658.2v4.5M244.5 658.2v6.6M253.4 658.2v4.5M258.6 658.2v4.5M262.3 658.2v4.5M265.2 658.2v4.5M267.6 658.2v4.5M269.6 658.2v4.5M271.3 658.2v4.5M272.8 658.2v4.5M274.1 658.2v6.6M283.1 658.2v4.5M288.3 658.2v4.5M292 658.2v4.5M294.9 658.2v4.5M297.2 658.2v4.5M299.2 658.2v4.5M300.9 658.2v4.5M302.5 658.2v4.5M303.8 658.2v6.6M312.8 658.2v4.5M318 658.2v4.5M321.7 658.2v4.5M324.6 658.2v4.5M326.9 658.2v4.5M328.9 658.2v4.5M330.6 658.2v4.5M332.1 658.2v4.5M333.5 658.2v6.6"/>
<text class="xl" style="font-size:12.6px" x="207.4" y="678.1" textLength="11.2" lengthAdjust="spacingAndGlyphs">10</text>
<text class="xl" style="font-size:13.1px" x="219.5" y="671.5" textLength="5.9" lengthAdjust="spacingAndGlyphs">0</text>
<text class="xl" style="font-size:12.6px" x="236.5" y="678.1" textLength="11.2" lengthAdjust="spacingAndGlyphs">10</text>
<text class="xl" style="font-size:13.1px" x="248.6" y="671.5" textLength="5.9" lengthAdjust="spacingAndGlyphs">1</text>
<text class="xl" style="font-size:12.6px" x="265.6" y="678.1" textLength="11.2" lengthAdjust="spacingAndGlyphs">10</text>
<text class="xl" style="font-size:13.1px" x="277.7" y="671.5" textLength="5.9" lengthAdjust="spacingAndGlyphs">2</text>
<text class="xl" style="font-size:12.6px" x="294.7" y="678.1" textLength="11.2" lengthAdjust="spacingAndGlyphs">10</text>
<text class="xl" style="font-size:13.1px" x="306.8" y="671.5" textLength="5.9" lengthAdjust="spacingAndGlyphs">3</text>
<text class="xl" style="font-size:12.6px" x="323.8" y="678.1" textLength="11.2" lengthAdjust="spacingAndGlyphs">10</text>
<text class="xl" style="font-size:13.1px" x="335.9" y="671.5" textLength="5.9" lengthAdjust="spacingAndGlyphs">4</text>
<text class="fl" style="font-size:11.9px" x="258.3" y="690" textLength="30.5" lengthAdjust="spacingAndGlyphs">FL1-H</text>
<text class="yl" style="font-size:10.9px" transform="translate(202.3 657.4) rotate(-90)" text-anchor="middle">0</text>
<text class="yl" style="font-size:10.9px" transform="translate(202.3 559.3) rotate(-90)" x="-8.5" textLength="17" lengthAdjust="spacingAndGlyphs">150</text>
<text class="yc" style="font-size:11.7px" transform="translate(189 611.9) rotate(-90)" x="-18.8" textLength="37.5" lengthAdjust="spacingAndGlyphs">Counts</text>
</g>
<g>
<polygon class="fh" points="400.5,659.1 400.5,655.8 401.5,655.8 402.6,656.1 403.6,656.2 404.6,655.7 405.7,655.4 406.7,655.4 407.8,656 408.8,655.9 409.8,655.3 410.9,655.8 411.9,655.3 412.9,655.4 414,655.1 415,655.4 416.2,655 417.3,654.4 418.5,652.7 419.6,652.5 420.8,651.5 422,649.5 423.1,649 424.3,646.2 425.4,644.7 426.6,643.8 427.9,641 429.2,637.1 430.5,634.2 431.7,631 432.9,627.1 434.1,623 435.3,618.8 436.6,614.4 437.8,611.4 439.1,607.3 440.6,605.1 442,601.5 443.5,599.6 445,602.5 446.8,609.2 448.2,616.8 449.7,624.6 451,629.1 452.2,634.4 453.5,640 454.8,642.9 456.1,646.7 457.4,649.6 458.6,650.3 459.7,651.5 460.9,652.7 462,654.4 463.2,655.4 464.3,655.8 465.3,655.6 466.4,656 467.5,656.3 468.6,656.2 469.6,656 470.7,656.3 471.8,656.9 472.9,656.8 473.9,656.7 475,657 476,657.1 477,656.7 478.1,657.4 479.1,657 480.1,657.1 481.1,657.1 482.1,656.7 483.1,657.1 484.2,656.9 485.2,656.9 486.2,657.3 487.2,656.8 488.2,656.9 489.2,657.3 490.3,656.9 491.3,656.9 492.3,657.1 493.3,656.9 494.3,657.4 495.4,657.5 496.4,656.8 497.4,657.1 498.4,657.3 499.4,657.1 500.4,657.5 501.5,657.2 502.5,656.9 503.5,657.2 504.5,657.3 505.5,657.1 506.5,657.3 507.6,657.4 508.6,657.2 509.6,657.2 509.6,659.1"/>
<polyline class="oh" points="401.5,645.8 402.8,643.4 404,641 405.2,639.2 406.4,636.2 407.7,633.6 409,630.4 410.3,627.5 411.5,626.8 412.6,624 413.8,623.6 415,621.7 416,619.9 417,619.4 418,618 419.4,615.6 420.8,614 422.3,617 423.7,620.8 425.1,625.5 426.6,630.4 428.1,633.3 429.5,635.2"/>
<rect x="398.8" y="599.6" width="2.6" height="59.5"/>
<rect class="fr" x="398.8" y="559.2" width="111.8" height="99.9"/>
<path class="bl" d="M398.8 658.4H510.6"/>
<path class="tk2" d="M398.8 659.1h-8.6M398.8 656.6h-5.7M398.8 654.1h-5.7M398.8 651.6h-5.7M398.8 649.1h-5.7M398.8 646.6h-5.7M398.8 644.1h-5.7M398.8 641.6h-5.7M398.8 639.1h-8.6M398.8 636.6h-5.7M398.8 634.1h-5.7M398.8 631.6h-5.7M398.8 629.1h-5.7M398.8 626.6h-5.7M398.8 624.1h-5.7M398.8 621.6h-5.7M398.8 619.1h-8.6M398.8 616.6h-5.7M398.8 614.1h-5.7M398.8 611.6h-5.7M398.8 609.2h-5.7M398.8 606.7h-5.7M398.8 604.2h-5.7M398.8 601.7h-5.7M398.8 599.2h-8.6M398.8 596.7h-5.7M398.8 594.2h-5.7M398.8 591.7h-5.7M398.8 589.2h-5.7M398.8 586.7h-5.7M398.8 584.2h-5.7M398.8 581.7h-5.7M398.8 579.2h-8.6M398.8 576.7h-5.7M398.8 574.2h-5.7M398.8 571.7h-5.7M398.8 569.2h-5.7M398.8 566.7h-5.7M398.8 564.2h-5.7M398.8 561.7h-5.7M398.8 559.2h-8.6"/>
<rect x="395.6" y="559.2" width="3.2" height="99.9"/>
<path class="tk" d="M398.8 659.1v6.6M407.2 659.1v4.5M412.1 659.1v4.5M415.6 659.1v4.5M418.3 659.1v4.5M420.6 659.1v4.5M422.4 659.1v4.5M424.1 659.1v4.5M425.5 659.1v4.5M426.8 659.1v6.6M435.2 659.1v4.5M440.1 659.1v4.5M443.6 659.1v4.5M446.3 659.1v4.5M448.5 659.1v4.5M450.4 659.1v4.5M452 659.1v4.5M453.4 659.1v4.5M454.7 659.1v6.6M463.1 659.1v4.5M468.1 659.1v4.5M471.6 659.1v4.5M474.3 659.1v4.5M476.5 659.1v4.5M478.4 659.1v4.5M480 659.1v4.5M481.4 659.1v4.5M482.7 659.1v6.6M491.1 659.1v4.5M496 659.1v4.5M499.5 659.1v4.5M502.2 659.1v4.5M504.4 659.1v4.5M506.3 659.1v4.5M507.9 659.1v4.5M509.4 659.1v4.5M510.6 659.1v6.6"/>
<text class="xl" style="font-size:12.9px" x="392.2" y="679.2" textLength="11.2" lengthAdjust="spacingAndGlyphs">10</text>
<text class="xl" style="font-size:13.4px" x="404.3" y="672.8" textLength="5.9" lengthAdjust="spacingAndGlyphs">0</text>
<text class="xl" style="font-size:12.9px" x="419.6" y="679.2" textLength="11.2" lengthAdjust="spacingAndGlyphs">10</text>
<text class="xl" style="font-size:13.4px" x="431.7" y="672.8" textLength="5.9" lengthAdjust="spacingAndGlyphs">1</text>
<text class="xl" style="font-size:12.9px" x="447" y="679.2" textLength="11.2" lengthAdjust="spacingAndGlyphs">10</text>
<text class="xl" style="font-size:13.4px" x="459.1" y="672.8" textLength="5.9" lengthAdjust="spacingAndGlyphs">2</text>
<text class="xl" style="font-size:12.9px" x="474.4" y="679.2" textLength="11.2" lengthAdjust="spacingAndGlyphs">10</text>
<text class="xl" style="font-size:13.4px" x="486.5" y="672.8" textLength="5.9" lengthAdjust="spacingAndGlyphs">3</text>
<text class="xl" style="font-size:12.9px" x="501.8" y="679.2" textLength="11.2" lengthAdjust="spacingAndGlyphs">10</text>
<text class="xl" style="font-size:13.4px" x="513.9" y="672.8" textLength="5.9" lengthAdjust="spacingAndGlyphs">4</text>
<text class="fl" style="font-size:13.7px" x="436.7" y="691.9" textLength="30" lengthAdjust="spacingAndGlyphs">FL1-H</text>
<text class="yl" style="font-size:12.9px" transform="translate(386.8 657.9) rotate(-90)" text-anchor="middle">0</text>
<text class="yl" style="font-size:12.9px" transform="translate(386.8 559.4) rotate(-90)" x="-8.9" textLength="17.8" lengthAdjust="spacingAndGlyphs">150</text>
<text class="yc" style="font-size:10.9px" transform="translate(372.8 612.4) rotate(-90)" x="-18.8" textLength="37.5" lengthAdjust="spacingAndGlyphs">Counts</text>
</g>
<text class="hd" x="24.4" y="33.9" textLength="136" lengthAdjust="spacingAndGlyphs">CD41a Binding</text>
<text class="hd" x="200.2" y="15.7" textLength="135.6" lengthAdjust="spacingAndGlyphs">PAC-1 Binding</text>
<text class="hd" x="252.9" y="42.8" textLength="35.6" lengthAdjust="spacingAndGlyphs">PAF</text>
<text class="hd" x="370.2" y="15.7" textLength="135.6" lengthAdjust="spacingAndGlyphs">PAC-1 Binding</text>
<text class="hd" x="396.5" y="44.3" textLength="72.8" lengthAdjust="spacingAndGlyphs">U46619</text>
<text class="hd" x="231.9" y="75.9" textLength="70.5" lengthAdjust="spacingAndGlyphs">Patient</text>
<text class="hd" x="237.7" y="230.6" textLength="72.4" lengthAdjust="spacingAndGlyphs">Brother</text>
<text class="hd" x="237.7" y="385.5" textLength="63.7" lengthAdjust="spacingAndGlyphs">Mother</text>
<text class="hd" x="241.5" y="545" textLength="59.9" lengthAdjust="spacingAndGlyphs">Sister</text>
</g>
<defs><filter id="b" x="0" y="0" width="520" height="694" filterUnits="userSpaceOnUse"><feGaussianBlur stdDeviation="0.45"/></filter></defs>
</svg>
</body></html>
